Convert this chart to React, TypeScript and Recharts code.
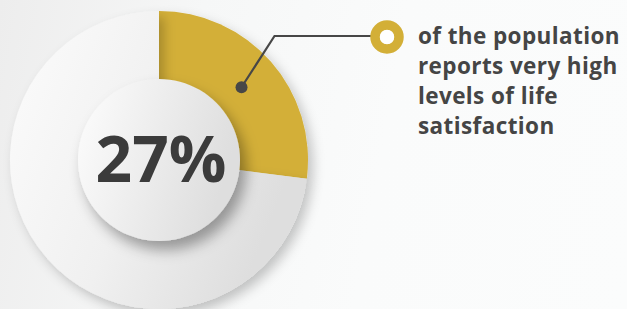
import React from 'react';
import { PieChart, Pie, Cell } from 'recharts';

const categories = ['very high life satisfaction', 'other'];
const shares = [27, 73];
const centerLabel = '27%';
const calloutLines = ['of the population', 'reports very high', 'levels of life', 'satisfaction'];

const data = categories.map((name, i) => ({ name, value: shares[i] }));
const innerData = [{ name: 'center', value: 1 }];

const GOLD = '#d3af37';
const DARK = '#474747';

const renderCallout = (props: any) => {
  if (props.index !== 0) return null;
  const { cx, cy, midAngle } = props;
  const RAD = Math.PI / 180;
  const r = 110;
  const dx = cx + r * Math.cos(-midAngle * RAD);
  const dy = cy + r * Math.sin(-midAngle * RAD);
  const bx = dx + 33;
  const by = cy - 124;
  const mx = cx + 228;
  const tx = mx + 31;
  return (
    <g>
      <polyline points={`${dx},${dy} ${bx},${by} ${mx - 16},${by}`} fill="none" stroke={DARK} strokeWidth={2.2} />
      <circle cx={dx} cy={dy} r={6} fill={DARK} />
      <circle cx={mx} cy={by + 1} r={12} fill="none" stroke={GOLD} strokeWidth={9.5} />
      <circle cx={mx} cy={by + 1} r={7} fill="#ffffff" />
      <text x={tx} y={by + 8} fill="#454545" fontFamily="'Open Sans', sans-serif" fontWeight={700} fontSize={22.5} letterSpacing={0.4}>
        {calloutLines.map((l, i) => (
          <tspan key={i} x={tx} dy={i === 0 ? 0 : 30}>{l}</tspan>
        ))}
      </text>
    </g>
  );
};

const renderCenter = (props: any) => {
  const { cx, cy } = props;
  return (
    <text x={cx + 2} y={cy + 22} textAnchor="middle" fill="#3b3b3b" fontFamily="'Open Sans', sans-serif" fontWeight={700} fontSize={64}>
      {centerLabel}
    </text>
  );
};

export default function App() {
  return (
    <div
      style={{
        position: 'absolute',
        left: 0,
        top: 0,
        width: 627,
        height: 309,
        background: 'linear-gradient(100deg, #ededed 0%, #f6f7f7 30%, #fafbfb 60%, #fbfcfc 100%)',
        overflow: 'hidden',
      }}
    >
      <PieChart width={627} height={309} margin={{ top: 0, right: 0, bottom: 0, left: 0 }}>
        <defs>
          <linearGradient id="ringGrey" x1="0" y1="0" x2="1" y2="0.4">
            <stop offset="0%" stopColor="#fcfcfc" />
            <stop offset="55%" stopColor="#f0f0f0" />
            <stop offset="100%" stopColor="#dedede" />
          </linearGradient>
          <linearGradient id="diskGrad" x1="0" y1="0" x2="1" y2="0.3">
            <stop offset="0%" stopColor="#fdfdfd" />
            <stop offset="100%" stopColor="#dedede" />
          </linearGradient>
          <filter id="ringShadow" x="-20%" y="-20%" width="140%" height="140%">
            <feDropShadow dx="5" dy="6" stdDeviation="6" floodColor="#000" floodOpacity="0.22" />
          </filter>
          <filter id="diskShadow" x="-30%" y="-30%" width="160%" height="160%">
            <feDropShadow dx="6" dy="9" stdDeviation="7" floodColor="#000" floodOpacity="0.35" />
          </filter>
        </defs>
        <Pie
          data={data}
          dataKey="value"
          cx={159}
          cy={160}
          outerRadius={149}
          innerRadius={0}
          startAngle={90}
          endAngle={-270}
          stroke="none"
          isAnimationActive={false}
          style={{ filter: 'url(#ringShadow)' }}
          label={renderCallout}
          labelLine={false}
        >
          <Cell fill={GOLD} />
          <Cell fill="url(#ringGrey)" />
        </Pie>
        <Pie
          data={innerData}
          dataKey="value"
          cx={159}
          cy={160}
          outerRadius={81}
          innerRadius={0}
          stroke="none"
          isAnimationActive={false}
          style={{ filter: 'url(#diskShadow)' }}
          label={renderCenter}
          labelLine={false}
        >
          <Cell fill="url(#diskGrad)" />
        </Pie>
      </PieChart>
    </div>
  );
}
